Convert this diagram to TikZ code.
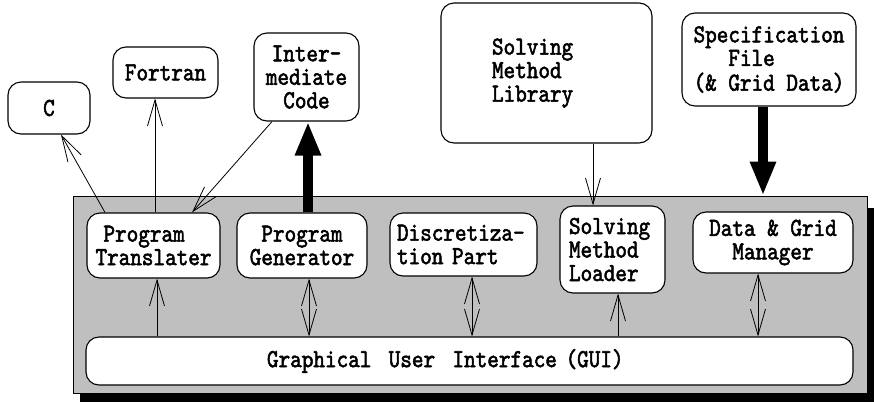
\documentclass[tikz,border=0pt]{standalone}
\usepackage{fontspec}
\newfontfamily\diagfont[FakeStretch=0.85,FakeBold=2]{lmmono10-regular.otf}
\usetikzlibrary{arrows.meta}

\begin{document}
\begin{tikzpicture}[x=1pt,y=-1pt,
  box/.style={draw, line width=1.1pt, rounded corners=13pt, fill=white,
    inner sep=0pt, font=\diagfont\fontsize{26}{23.5}\selectfont, align=center},
  link/.style={line width=0.8pt, -{Straight Barb[length=26pt,width=15pt]}},
  twoway/.style={line width=0.8pt,
    {Straight Barb[length=26pt,width=15pt]}-{Straight Barb[length=26pt,width=15pt]}},
  heavy/.style={line width=10pt, -{Triangle[length=34pt,width=24pt]}},
]
\useasboundingbox (0,0) rectangle (874,402);

% panel with its drop shadow
\fill[black] (80,208) rectangle (874,402);
\node[draw, line width=0.8pt, fill=black!25, minimum width=794pt,
  minimum height=197pt, inner sep=0pt] (panel) at (470,294.5) {};

% outer boxes
\node[box, minimum width=82pt, minimum height=52pt] (c) at (49,108) {C};
\node[box, minimum width=105pt, minimum height=51pt] (fortran) at (165.5,72.5) {Fortran};
\node[box, minimum width=105pt, minimum height=88pt] (ic) at (306.5,77) {Inter-\\mediate\\Code};
\node[box, minimum width=211pt, minimum height=140pt, text width=109pt,
  inner xsep=51pt, align=left] (lib) at (546.5,73) {Solving\\Method\\Library};
\node[box, minimum width=174pt, minimum height=93pt, align=left] (spec) at (769,59.5)
  {Specification\\\phantom{Spe}File\\(\& Grid Data)};

% modules inside the panel
\node[box, minimum width=133pt, minimum height=65pt, align=left] (pt) at (153.5,245.5)
  {\hspace*{8pt}Program\\Translater};
\node[box, minimum width=130pt, minimum height=65pt] (pg) at (302,245.5) {Program\\Generator};
\node[box, minimum width=147pt, minimum height=63pt, text width=133pt,
  inner xsep=7pt, align=left] (disc) at (463.5,244.5) {Discretiza-\\tion Part};
\node[box, minimum width=105pt, minimum height=87pt, text width=87pt,
  inner xsep=9pt, align=left] (sml) at (612.5,249.5) {Solving\\Method\\Loader};
\node[box, minimum width=160pt, minimum height=61pt] (dgm) at (773,242.5) {Data \& Grid\\Manager};
\node[box, minimum width=767pt, minimum height=48pt, text width=405pt,
  inner xsep=181pt, align=left] (gui) at (469.5,361)
  {Graphical\ \ User\ \ Interface (GUI)};

% data flow
\draw[link] ([xshift=-48.5pt]pt.north) -- ([xshift=12pt]c.south);
\draw[link] ([xshift=1.5pt]pt.north) -- ([xshift=1.5pt]pt.north |- fortran.south);
\draw[link] ([xshift=-34.5pt]ic.south) -- ([xshift=38.5pt]pt.north);
\draw[heavy] ([xshift=6pt]pg.north) -- ([xshift=6pt]pg.north |- ic.south);
\draw[link] ([xshift=46.5pt]lib.south) -- ([xshift=46.5pt]lib.south |- sml.north);
\draw[heavy] ([xshift=-6pt]spec.south) -- ([xshift=-6pt]spec.south |- panel.north);

% links to the user interface
\draw[link] ([xshift=3.5pt]pt.south |- gui.north) -- ([xshift=3.5pt]pt.south);
\draw[twoway] ([xshift=7pt]pg.south) -- ([xshift=7pt]pg.south |- gui.north);
\draw[twoway] ([xshift=8.5pt]disc.south) -- ([xshift=8.5pt]disc.south |- gui.north);
\draw[link] ([xshift=5.5pt]sml.south |- gui.north) -- ([xshift=5.5pt]sml.south);
\draw[twoway] ([xshift=-15pt]dgm.south) -- ([xshift=-15pt]dgm.south |- gui.north);
\end{tikzpicture}
\end{document}
